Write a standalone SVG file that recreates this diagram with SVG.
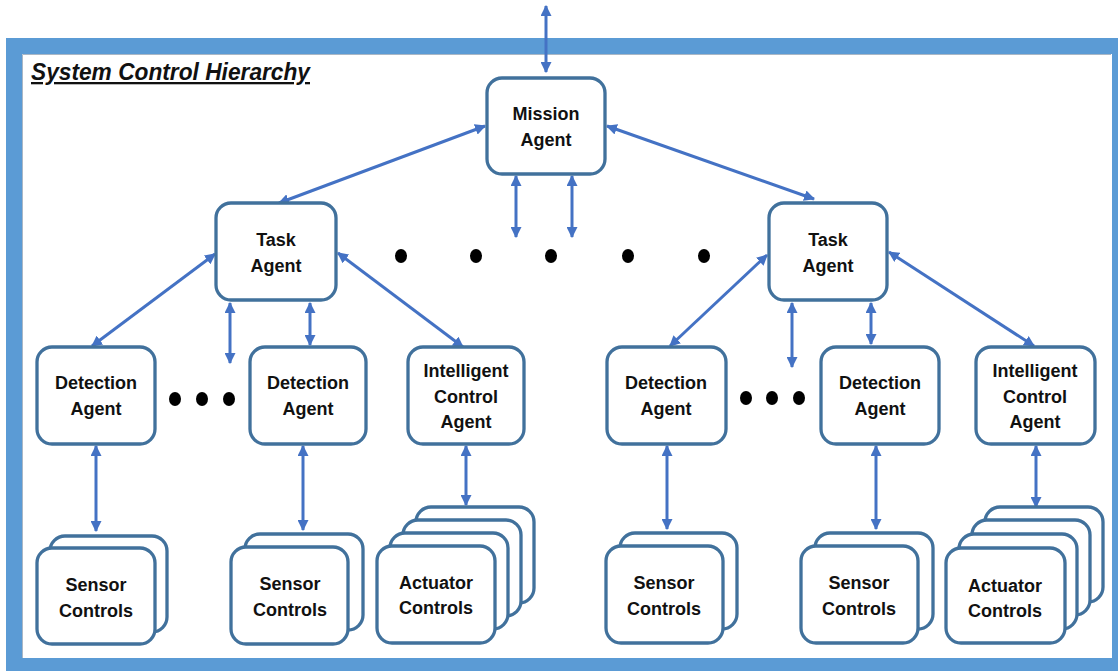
<svg xmlns="http://www.w3.org/2000/svg" width="1118" height="671" viewBox="0 0 1118 671">
  <defs>
    <marker id="head" viewBox="0 0 10 10" refX="9" refY="5" markerWidth="11" markerHeight="11" markerUnits="userSpaceOnUse" orient="auto-start-reverse">
      <path d="M0,0 L10,5 L0,10 z" fill="#4472C4"/>
    </marker>
    <style>
      .box { fill: #ffffff; stroke: #41719C; stroke-width: 3.3; }
      .lbl { font-family: "Liberation Sans", Arial, sans-serif; font-weight: bold; font-size: 18px; fill: #111111; text-anchor: middle; }
      .link { stroke: #4472C4; stroke-width: 3; fill: none; marker-start: url(#head); marker-end: url(#head); }
      .dot { fill: #000000; }
    </style>
  </defs>

  <rect x="0" y="0" width="1118" height="671" fill="#ffffff"/>

  <!-- outer frame -->
  <rect x="14" y="46" width="1106" height="620" fill="#ffffff" stroke="#5B9BD5" stroke-width="16"/>
  <path d="M22.5,658 V54.5 H1111" fill="none" stroke="#a9b7c6" stroke-width="1"/>

  <text x="31" y="80" font-family="Liberation Sans, Arial, sans-serif" font-weight="bold" font-style="italic" font-size="23" text-decoration="underline" textLength="279" lengthAdjust="spacingAndGlyphs" fill="#111111">System Control Hierarchy</text>

  <!-- connectors -->
  <g id="connectors">
    <line class="link" x1="546" y1="6" x2="546" y2="72"/>
    <line class="link" x1="485" y1="126" x2="279" y2="203"/>
    <line class="link" x1="607" y1="126" x2="814" y2="199"/>
    <line class="link" x1="516" y1="176" x2="516" y2="237"/>
    <line class="link" x1="572" y1="176" x2="572" y2="237"/>

    <line class="link" x1="215" y1="254" x2="92" y2="346"/>
    <line class="link" x1="230" y1="303" x2="230" y2="363"/>
    <line class="link" x1="310" y1="303" x2="310" y2="345"/>
    <line class="link" x1="338" y1="253" x2="463" y2="347"/>

    <line class="link" x1="767" y1="255" x2="670" y2="346"/>
    <line class="link" x1="792" y1="303" x2="792" y2="367"/>
    <line class="link" x1="871" y1="303" x2="871" y2="344"/>
    <line class="link" x1="889" y1="252" x2="1034" y2="346"/>

    <line class="link" x1="96" y1="446" x2="96" y2="531"/>
    <line class="link" x1="303" y1="446" x2="303" y2="530"/>
    <line class="link" x1="466" y1="446" x2="466" y2="505"/>
    <line class="link" x1="667" y1="446" x2="667" y2="529"/>
    <line class="link" x1="876" y1="446" x2="876" y2="529"/>
    <line class="link" x1="1036" y1="446" x2="1036" y2="507"/>
  </g>

  <!-- ellipsis markers -->
  <g id="ellipses">
    <ellipse class="dot" cx="401" cy="256" rx="6" ry="7"/>
    <ellipse class="dot" cx="476" cy="256" rx="6" ry="7"/>
    <ellipse class="dot" cx="551" cy="256" rx="6" ry="7"/>
    <ellipse class="dot" cx="628" cy="256" rx="6" ry="7"/>
    <ellipse class="dot" cx="704" cy="256" rx="6" ry="7"/>
    <ellipse class="dot" cx="175" cy="399" rx="6" ry="7"/>
    <ellipse class="dot" cx="202" cy="399" rx="6" ry="7"/>
    <ellipse class="dot" cx="229" cy="399" rx="6" ry="7"/>
    <ellipse class="dot" cx="746" cy="398" rx="6" ry="7"/>
    <ellipse class="dot" cx="772" cy="398" rx="6" ry="7"/>
    <ellipse class="dot" cx="799" cy="398" rx="6" ry="7"/>
  </g>

  <!-- agents -->
  <g id="mission-agent">
    <rect class="box" x="487" y="78" width="118" height="96" rx="15"/>
    <text class="lbl" x="546" y="120">Mission</text>
    <text class="lbl" x="546" y="146">Agent</text>
  </g>

  <g id="task-agent-1">
    <rect class="box" x="216" y="203" width="120" height="97" rx="15"/>
    <text class="lbl" x="276" y="246">Task</text>
    <text class="lbl" x="276" y="272">Agent</text>
  </g>
  <g id="task-agent-2">
    <rect class="box" x="769" y="203" width="118" height="97" rx="15"/>
    <text class="lbl" x="828" y="246">Task</text>
    <text class="lbl" x="828" y="272">Agent</text>
  </g>

  <g id="detection-agent-1">
    <rect class="box" x="37" y="347" width="118" height="97" rx="15"/>
    <text class="lbl" x="96" y="389">Detection</text>
    <text class="lbl" x="96" y="415">Agent</text>
  </g>
  <g id="detection-agent-2">
    <rect class="box" x="250" y="347" width="116" height="97" rx="15"/>
    <text class="lbl" x="308" y="389">Detection</text>
    <text class="lbl" x="308" y="415">Agent</text>
  </g>
  <g id="intelligent-control-agent-1">
    <rect class="box" x="408" y="347" width="116" height="97" rx="15"/>
    <text class="lbl" x="466" y="377">Intelligent</text>
    <text class="lbl" x="466" y="403">Control</text>
    <text class="lbl" x="466" y="428">Agent</text>
  </g>
  <g id="detection-agent-3">
    <rect class="box" x="607" y="347" width="119" height="97" rx="15"/>
    <text class="lbl" x="666" y="389">Detection</text>
    <text class="lbl" x="666" y="415">Agent</text>
  </g>
  <g id="detection-agent-4">
    <rect class="box" x="821" y="347" width="118" height="97" rx="15"/>
    <text class="lbl" x="880" y="389">Detection</text>
    <text class="lbl" x="880" y="415">Agent</text>
  </g>
  <g id="intelligent-control-agent-2">
    <rect class="box" x="976" y="347" width="119" height="97" rx="15"/>
    <text class="lbl" x="1035" y="377">Intelligent</text>
    <text class="lbl" x="1035" y="403">Control</text>
    <text class="lbl" x="1035" y="428">Agent</text>
  </g>

  <!-- control stacks -->
  <g id="sensor-controls-1">
    <rect class="box" x="50" y="536" width="117" height="96" rx="15"/>
    <rect class="box" x="37" y="548" width="118" height="96" rx="15"/>
    <text class="lbl" x="96" y="591">Sensor</text>
    <text class="lbl" x="96" y="617">Controls</text>
  </g>
  <g id="sensor-controls-2">
    <rect class="box" x="245" y="534" width="118" height="96" rx="15"/>
    <rect class="box" x="231" y="547" width="117" height="97" rx="15"/>
    <text class="lbl" x="290" y="590">Sensor</text>
    <text class="lbl" x="290" y="616">Controls</text>
  </g>
  <g id="actuator-controls-1">
    <rect class="box" x="416" y="507" width="118" height="96" rx="15"/>
    <rect class="box" x="403" y="520" width="118" height="96" rx="15"/>
    <rect class="box" x="390" y="533" width="118" height="96" rx="15"/>
    <rect class="box" x="377" y="546" width="118" height="97" rx="15"/>
    <text class="lbl" x="436" y="589">Actuator</text>
    <text class="lbl" x="436" y="614">Controls</text>
  </g>
  <g id="sensor-controls-3">
    <rect class="box" x="620" y="533" width="117" height="96" rx="15"/>
    <rect class="box" x="606" y="546" width="117" height="97" rx="15"/>
    <text class="lbl" x="664" y="589">Sensor</text>
    <text class="lbl" x="664" y="615">Controls</text>
  </g>
  <g id="sensor-controls-4">
    <rect class="box" x="815" y="533" width="118" height="96" rx="15"/>
    <rect class="box" x="801" y="546" width="117" height="97" rx="15"/>
    <text class="lbl" x="859" y="589">Sensor</text>
    <text class="lbl" x="859" y="615">Controls</text>
  </g>
  <g id="actuator-controls-2">
    <rect class="box" x="985" y="507" width="118" height="95" rx="15"/>
    <rect class="box" x="972" y="520" width="118" height="95" rx="15"/>
    <rect class="box" x="959" y="534" width="118" height="95" rx="15"/>
    <rect class="box" x="946" y="548" width="119" height="95" rx="15"/>
    <text class="lbl" x="1005" y="592">Actuator</text>
    <text class="lbl" x="1005" y="617">Controls</text>
  </g>
</svg>
